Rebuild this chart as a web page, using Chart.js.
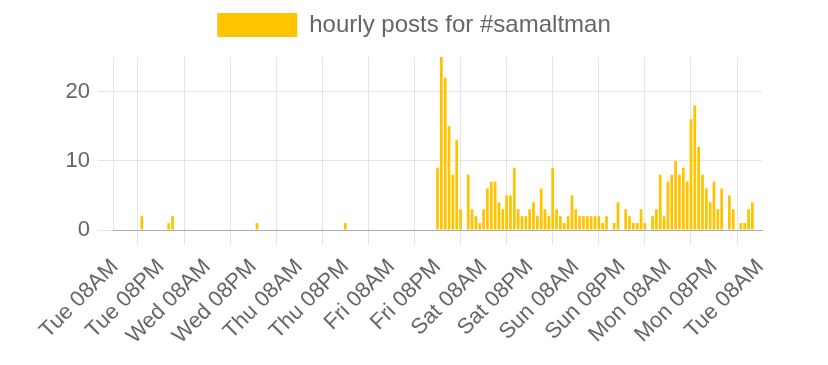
<!DOCTYPE html>
<html lang="en">
<head>
    <meta charset="UTF-8">
    <title>hourly posts for #samaltman</title>
    <script src="https://cdn.jsdelivr.net/npm/chart.js"></script>
    <style>
        html, body { margin: 0; padding: 0; background: #fff; }
        .chart-container { position: relative; width: 828px; height: 365px; }
    </style>
</head>
<body>
    <div class="chart-container">
        <canvas id="postsChart"></canvas>
    </div>

    <script>
        // one label per hour, Tue 08AM -> next Tue 08AM
        const dayNames = ['Tue', 'Wed', 'Thu', 'Fri', 'Sat', 'Sun', 'Mon', 'Tue'];
        const startHour = 8;
        const hourCount = 169;
        const labelEvery = 12;

        // posts per hour, each row starts at 08AM
        const hourlyPosts = [
            0, 0, 0, 0, 0, 0, 0, 2, 0, 0, 0, 0, 0, 0, 1, 2, 0, 0, 0, 0, 0, 0, 0, 0,
            0, 0, 0, 0, 0, 0, 0, 0, 0, 0, 0, 0, 0, 1, 0, 0, 0, 0, 0, 0, 0, 0, 0, 0,
            0, 0, 0, 0, 0, 0, 0, 0, 0, 0, 0, 0, 1, 0, 0, 0, 0, 0, 0, 0, 0, 0, 0, 0,
            0, 0, 0, 0, 0, 0, 0, 0, 0, 0, 0, 0, 9, 25, 22, 15, 8, 13, 3, 0, 8, 3, 2, 1,
            3, 6, 7, 7, 4, 3, 5, 5, 9, 3, 2, 2, 3, 4, 2, 6, 3, 2, 9, 3, 2, 1, 2, 5,
            3, 2, 2, 2, 2, 2, 2, 1, 2, 0, 1, 4, 0, 3, 2, 1, 1, 3, 1, 0, 2, 3, 8, 2,
            7, 8, 10, 8, 9, 7, 16, 18, 12, 8, 6, 4, 7, 3, 6, 0, 5, 3, 0, 1, 1, 3, 4, 0,
            0
        ];

        const yTicks = [0, 10, 20];
        const yMax = 25;

        const hourLabels = [];
        for (let i = 0; i < hourCount; i++) {
            const h = (startHour + i) % 24;
            const day = dayNames[Math.floor((startHour + i) / 24)];
            const h12 = (h % 12) || 12;
            hourLabels.push(day + ' ' + String(h12).padStart(2, '0') + (h < 12 ? 'AM' : 'PM'));
        }

        const fontFamily = 'Helvetica, Arial, "Liberation Sans", sans-serif';
        const textColor = '#666';

        // extra room under the legend
        const legendSpacing = {
            id: 'legendSpacing',
            beforeInit(chart) {
                const origFit = chart.legend.fit;
                chart.legend.fit = function () {
                    origFit.call(this);
                    this.height += 10;
                };
            }
        };

        const config = {
            type: 'bar',
            data: {
                labels: hourLabels,
                datasets: [{
                    label: 'hourly posts for #samaltman',
                    data: hourlyPosts,
                    backgroundColor: '#ffc400',
                    borderWidth: 0
                }]
            },
            options: {
                responsive: true,
                maintainAspectRatio: false,
                animation: false,
                layout: { padding: { left: 0, right: 0, top: 3, bottom: 0 } },
                plugins: {
                    legend: {
                        position: 'top',
                        labels: {
                            boxWidth: 80,
                            boxHeight: 24,
                            color: textColor,
                            font: { family: fontFamily, size: 24 },
                            padding: 10
                        }
                    },
                    tooltip: { enabled: false }
                },
                scales: {
                    x: {
                        grid: {
                            offset: true,
                            color: 'rgba(0,0,0,0.1)',
                            tickLength: 15
                        },
                        border: { color: 'rgba(0,0,0,0.25)' },
                        ticks: {
                            autoSkip: false,
                            minRotation: 45,
                            maxRotation: 45,
                            color: textColor,
                            font: { family: fontFamily, size: 22 },
                            padding: 9
                        },
                        afterBuildTicks: (scale) => {
                            scale.ticks = scale.ticks.filter((t, i) => i % labelEvery === 0);
                        },
                        afterFit: (scale) => { scale.height = 135; }
                    },
                    y: {
                        min: 0,
                        max: yMax,
                        grid: {
                            color: 'rgba(0,0,0,0.1)',
                            tickLength: 15
                        },
                        border: { color: 'rgba(0,0,0,0.1)' },
                        ticks: {
                            stepSize: 10,
                            includeBounds: false,
                            color: textColor,
                            font: { family: fontFamily, size: 22 },
                            padding: 8
                        },
                        afterBuildTicks: (scale) => {
                            scale.ticks = yTicks.map(v => ({ value: v }));
                        },
                        afterFit: (scale) => { scale.width = 113; }
                    },
                    // empty right-hand axis, only keeps the right margin
                    yRight: {
                        position: 'right',
                        grid: { display: false },
                        border: { display: false },
                        ticks: { display: false },
                        afterFit: (scale) => { scale.width = 66; }
                    }
                }
            },
            plugins: [legendSpacing]
        };

        const ctx = document.getElementById('postsChart').getContext('2d');
        const postsChart = new Chart(ctx, config);
    </script>
</body>
</html>
